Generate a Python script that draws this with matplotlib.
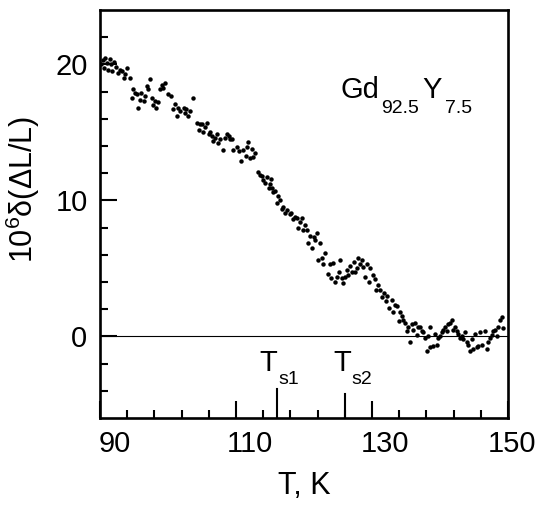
import matplotlib
matplotlib.use("Agg")
import matplotlib.pyplot as plt
import matplotlib.transforms as mtransforms
import numpy as np

plt.rcParams["font.family"] = ["Liberation Sans", "DejaVu Sans"]
plt.rcParams["mathtext.fontset"] = "custom"
plt.rcParams["mathtext.rm"] = "Liberation Sans"
plt.rcParams["mathtext.it"] = "Liberation Sans"

# temperature (K) and 10^6 * delta(dL/L)
temp = [
    90.2, 90.4, 90.6, 90.8, 91.0, 91.2, 91.4, 91.6, 91.8, 92.1, 92.4, 92.7, 93.0, 93.2,
    93.5, 93.7, 94.0, 94.4, 94.7, 94.9, 95.2, 95.4, 95.6, 95.9, 96.1, 96.4, 96.6, 96.9,
    97.1, 97.4, 97.6, 97.8, 98.1, 98.3, 98.6, 98.8, 99.1, 99.3, 99.6, 100.0, 100.5, 100.8,
    101.0, 101.3, 101.5, 101.8, 102.3, 102.5, 102.7, 103.0, 103.2, 103.7, 104.2, 104.5,
    104.7, 105.0, 105.2, 105.4, 105.7, 106.0, 106.2, 106.4, 106.6, 106.9, 107.2, 107.4,
    107.6, 108.1, 108.4, 108.7, 108.9, 109.1, 109.4, 109.6, 110.1, 110.4, 110.8, 111.1,
    111.4, 111.6, 111.8, 112.1, 112.3, 112.5, 112.8, 113.3, 113.6, 113.8, 114.0, 114.3,
    114.5, 114.8, 115.0, 115.2, 115.3, 115.5, 115.7, 116.0, 116.2, 116.5, 116.7, 116.9,
    117.2, 117.5, 117.9, 118.1, 118.4, 118.7, 118.9, 119.1, 119.4, 119.7, 119.9, 120.1,
    120.4, 120.6, 120.9, 121.2, 121.4, 121.6, 121.9, 122.1, 122.4, 122.6, 122.8, 123.1,
    123.5, 123.8, 124.0, 124.3, 124.6, 124.8, 125.1, 125.3, 125.6, 125.8, 126.0, 126.3,
    126.5, 126.8, 127.0, 127.3, 127.5, 127.8, 128.0, 128.3, 128.5, 128.7, 129.0, 129.2,
    129.5, 129.7, 130.1, 130.4, 130.6, 130.9, 131.2, 131.5, 131.7, 132.0, 132.2, 132.5,
    132.9, 133.1, 133.4, 133.7, 133.9, 134.1, 134.4, 134.6, 134.9, 135.1, 135.3, 135.6,
    135.9, 136.0, 136.3, 136.6, 136.8, 137.1, 137.3, 137.5, 137.8, 138.1, 138.2, 138.5,
    138.6, 139.0, 139.3, 139.5, 139.7, 140.0, 140.3, 140.5, 140.7, 141.0, 141.2, 141.5,
    141.8, 141.9, 142.2, 142.5, 142.6, 142.9, 143.2, 143.4, 143.7, 143.9, 144.1, 144.4,
    144.7, 144.9, 145.2, 145.4, 145.6, 145.9, 146.2, 146.6, 146.9, 147.1, 147.4, 147.6,
    147.8, 148.1, 148.4, 148.5, 148.8, 149.1, 149.3,
]
strain = [
    20.0, 20.3, 19.7, 20.5, 20.1, 19.6, 20.4, 20.0, 19.5, 20.2, 19.8, 19.4, 19.6, 19.5,
    19.0, 19.3, 19.7, 19.0, 17.5, 18.2, 17.9, 17.8, 16.8, 17.4, 17.9, 17.3, 17.7, 18.4,
    18.2, 18.9, 17.5, 17.0, 17.3, 16.8, 17.2, 18.2, 18.5, 18.3, 18.6, 17.8, 17.7, 16.7,
    17.1, 16.2, 16.8, 16.6, 16.8, 16.4, 16.7, 16.2, 16.6, 17.5, 15.7, 15.2,
    15.6, 15.6, 15.0, 15.4, 15.7, 14.9, 15.0, 14.7, 14.4, 14.6, 14.9, 14.2,
    14.5, 13.7, 14.6, 14.9, 14.7, 14.5, 14.5, 13.7, 13.9, 13.6, 12.9, 13.7,
    13.3, 13.9, 14.3, 13.1, 13.8, 13.2, 13.5, 12.1, 11.9, 11.8, 11.5, 11.3,
    11.7, 10.9, 11.2, 11.6, 10.9, 10.6, 10.7, 9.8, 10.3, 10.0, 9.4, 9.5,
    9.1, 9.3, 9.0, 9.1, 8.6, 8.8, 8.7, 8.0, 8.4, 8.7, 7.8, 8.2,
    7.8, 6.9, 7.4, 6.5, 7.3, 7.1, 7.6, 5.6, 6.9, 5.8, 5.3, 6.1,
    4.6, 5.3, 4.3, 5.4, 4.0, 4.4, 4.7, 5.6, 4.3, 3.9, 4.4, 4.9,
    4.5, 5.2, 4.7, 5.5, 4.7, 5.0, 5.8, 5.3, 5.6, 5.1, 4.4, 5.3,
    4.0, 5.0, 4.5, 4.2, 3.4, 3.8, 3.4, 2.9, 3.2, 2.6, 3.0, 2.1,
    2.7, 1.8, 2.3, 2.2, 1.1, 1.8, 1.5, 1.2, 1.0, 0.4, 0.7, -0.4,
    0.9, 0.5, 1.0, 0.1, 0.7, 0.7, 0.4, 0.3, -0.1, -1.1, 0.0, 0.7,
    -0.8, -0.7, 0.2, -0.6, -0.1, 0.0, 0.3, 0.5, 0.7, 0.4, 0.9, 1.0,
    1.2, 0.5, 0.7, 0.4, 0.2, -0.1, 0.0, -0.2, 0.3, -0.4, -0.6, -1.1,
    -0.2, -0.9, 0.2, -0.8, -0.7, 0.3, -0.6, 0.4, -0.9, -0.4, -0.1, 0.1,
    0.4, 0.5, 0.0, 0.7, 1.2, 1.4, 0.6,
]

T_S1, T_S2 = 116, 126

fig = plt.figure(figsize=(5.52, 5.08), dpi=100)
ax = fig.add_axes([100 / 552, 90 / 508, 408 / 552, 408 / 508])
renderer = fig.canvas.get_renderer()


def chain_text(x, y, pieces):
    """Draw text pieces side by side: (string, fontsize, dy in points, gap in points)."""
    dx = 0.0
    for s, size, dy, gap in pieces:
        dx += gap
        tr = mtransforms.offset_copy(ax.transData, fig=fig, x=dx, y=dy, units="points")
        t = ax.text(x, y, s, fontsize=size, transform=tr, ha="left", va="baseline")
        dx += t.get_window_extent(renderer).width * 72 / fig.dpi


ax.plot(temp, strain, "o", ms=3.2, mew=0, color="black", zorder=3)
ax.axhline(0, color="black", lw=0.8, zorder=2)

# transition markers
ax.plot([T_S1, T_S1], [-6, -3.9], color="black", lw=1.5)
ax.plot([T_S2, T_S2], [-6, -4.2], color="black", lw=1.5)
chain_text(113.5, -2.55, [("T", 21, 0, 0), ("s1", 14, -9.5, 0.5)])
chain_text(124.3, -2.55, [("T", 21, 0, 0), ("s2", 14, -9.5, 0.5)])
chain_text(125.3, 17.5, [("Gd", 21, 0, 0), ("92.5", 14, -10.5, 1.5),
                         ("Y", 21, 0, 2.5), ("7.5", 14, -10.5, 2.5)])

ax.set_xlim(90, 150)
ax.set_ylim(-6, 24)
ax.set_xticks([90, 110, 130, 150])
ax.set_xticks(np.arange(94, 150, 4), minor=True)
ax.set_yticks([0, 10, 20])
ax.set_yticks(np.arange(-4, 24, 2), minor=True)

for s in ax.spines.values():
    s.set_linewidth(1.9)
ax.tick_params(which="both", direction="in", top=False, right=False, width=1.5,
               labelsize=21)
ax.tick_params(which="major", length=12, pad=9)
ax.tick_params(which="minor", length=6)

# tick labels in the original sit a little right of their ticks
shifts = [0.15, 0.14, 0.13, 0.04]
for lab, dx in zip(ax.get_xticklabels(), shifts):
    lab.set_transform(lab.get_transform()
                      + mtransforms.ScaledTranslation(dx, 0, fig.dpi_scale_trans))

ax.text(0.5, -0.167, "T, K", transform=ax.transAxes, fontsize=22,
        ha="center", va="center")
ax.text(-0.19, 0.56, r"10$^6$δ(ΔL/L)", transform=ax.transAxes, fontsize=22,
        ha="center", va="center", rotation=90)

fig.savefig("out.png", dpi=100)
